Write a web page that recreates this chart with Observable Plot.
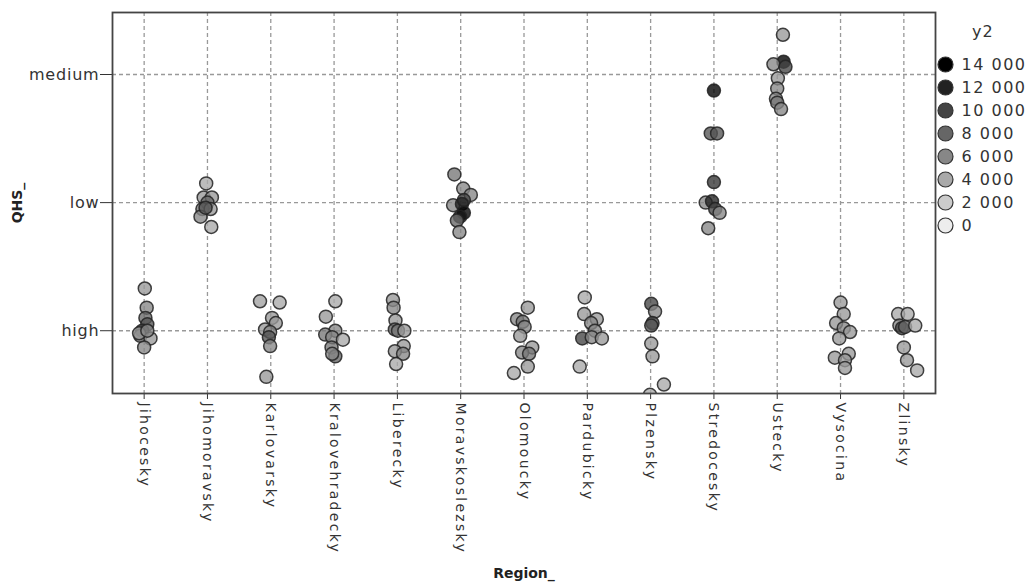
<!DOCTYPE html>
<html>
<head>
<meta charset="utf-8">
<script src="https://cdn.jsdelivr.net/npm/d3@7"></script>
<script src="https://cdn.jsdelivr.net/npm/@observablehq/plot@0.6"></script>
<style>
  html, body { margin: 0; padding: 0; background: #fff; }
  #wrap { position: relative; width: 1032px; height: 586px; font-family: "DejaVu Sans", sans-serif; }
  #chart { position: absolute; left: 0; top: 0; }
  #legend { position: absolute; left: 930px; top: 0; }
  #legTitle { position: absolute; left: 972px; top: 22px; font-size: 16px; color: #333; letter-spacing: 1px; }
  #chart g[aria-label="x-axis tick label"] text { letter-spacing: 2.3px; font-size: 14px; }
  #chart g[aria-label="y-axis tick label"] text { letter-spacing: 0.8px; font-size: 16px; }
  #chart g[aria-label="x-axis label"] text, #chart g[aria-label="y-axis label"] text { font-weight: bold; font-size: 14px; fill: #222; }
  #legend text { letter-spacing: 1.5px; }
</style>
</head>
<body>
<div id="wrap">
  <div id="chart"></div>
  <div id="legend"></div>
  <div id="legTitle">y2</div>
</div>
<script>
// Categories
const regions = ["Jihocesky","Jihomoravsky","Karlovarsky","Kralovehradecky","Liberecky","Moravskoslezsky","Olomoucky","Pardubicky","Plzensky","Stredocesky","Ustecky","Vysocina","Zlinsky"];
const qhsLevels = ["high", "low", "medium"];
// QHS_ category of each region
const regionQHS = ["high","low","high","high","high","low","high","high","high","low","medium","high","high"];
// Points per region: [x jitter, y jitter (category units), y2]
const jihocesky = [[0.01,0.33,5000],[0.04,0.18,6000],[0.02,0.10,8000],[0.05,0.05,9000],[-0.03,0.0,10000],[-0.06,-0.04,7000],[0.10,-0.06,5000],[0.0,-0.13,6000],[-0.08,-0.02,5000],[0.05,0.0,6000]];
const jihomoravsky = [[-0.02,0.15,4000],[-0.06,0.04,5000],[0.07,0.04,5000],[0.0,0.0,8000],[-0.08,-0.05,7000],[0.05,-0.05,5000],[-0.11,-0.11,6000],[0.06,-0.19,4000],[-0.03,-0.04,9000]];
const karlovarsky = [[-0.17,0.23,4500],[0.14,0.22,4000],[0.02,0.10,5000],[0.08,0.06,5000],[-0.09,0.01,5000],[-0.01,-0.01,6000],[-0.03,-0.05,9000],[-0.01,-0.12,6000],[-0.07,-0.36,5000]];
const kralovehradecky = [[0.02,0.23,4000],[-0.13,0.11,5000],[0.02,0.0,6000],[-0.14,-0.03,7000],[-0.03,-0.05,6000],[0.14,-0.07,4000],[-0.04,-0.13,7000],[0.02,-0.20,8000],[-0.03,-0.18,6000]];
const liberecky = [[-0.07,0.24,5000],[-0.06,0.18,6000],[-0.03,0.08,5000],[-0.04,0.01,8000],[0.01,0.0,7000],[0.11,0.0,5000],[0.10,-0.12,5000],[-0.04,-0.16,5000],[0.09,-0.18,6000],[-0.02,-0.26,4000]];
const moravskoslezsky = [[-0.10,0.22,7000],[0.04,0.11,6000],[0.16,0.06,6000],[-0.12,-0.02,6000],[0.05,0.02,10000],[0.02,-0.01,12000],[0.05,-0.08,14000],[-0.01,-0.11,13000],[-0.06,-0.14,8000],[-0.02,-0.23,6000]];
const olomoucky = [[0.06,0.18,5000],[-0.11,0.09,6000],[-0.02,0.07,7000],[0.01,0.03,6000],[-0.06,-0.04,5000],[0.13,-0.13,5000],[-0.03,-0.17,6000],[0.08,-0.18,7000],[0.06,-0.28,5000],[-0.16,-0.33,4000]];
const pardubicky = [[-0.04,0.26,4000],[-0.05,0.13,5000],[0.15,0.09,5000],[0.06,0.06,6000],[0.12,0.0,6000],[-0.08,-0.06,10000],[0.07,-0.05,6000],[0.23,-0.06,5000],[-0.12,-0.28,4000]];
const plzensky = [[0.01,0.21,10000],[0.07,0.15,6000],[0.03,0.06,10000],[0.01,0.04,9000],[0.01,-0.10,5000],[0.03,-0.20,5000],[0.21,-0.42,4000],[-0.01,-0.50,4000]];
const stredocesky = [[0.0,0.875,14000],[-0.05,0.54,9000],[0.05,0.54,9000],[0.0,0.16,11000],[-0.13,0.0,6000],[-0.03,0.01,12000],[0.02,-0.05,10000],[0.09,-0.08,6000],[-0.09,-0.2,6000]];
const ustecky = [[0.09,0.31,5000],[0.10,0.10,14000],[-0.06,0.08,6000],[0.13,0.06,10000],[0.01,-0.03,5000],[0.0,-0.11,6000],[-0.02,-0.19,6000],[0.0,-0.22,7000],[0.06,-0.27,6000]];
const vysocina = [[0.0,0.22,5000],[0.05,0.13,5000],[-0.07,0.06,5000],[0.05,0.02,6000],[0.15,-0.01,5000],[-0.02,-0.06,5000],[0.13,-0.18,5000],[-0.09,-0.21,5000],[0.07,-0.23,5000],[0.07,-0.29,5000]];
const zlinsky = [[-0.09,0.13,4000],[0.06,0.13,4000],[-0.07,0.04,6000],[-0.03,0.02,10000],[0.02,0.03,8000],[0.18,0.04,4000],[0.0,-0.13,5000],[0.05,-0.23,5000],[0.21,-0.31,4000]];
const pointsByRegion = [jihocesky, jihomoravsky, karlovarsky, kralovehradecky, liberecky, moravskoslezsky, olomoucky, pardubicky, plzensky, stredocesky, ustecky, vysocina, zlinsky];
// Legend values
const legendValues = [14000, 12000, 10000, 8000, 6000, 4000, 2000, 0];

const data = pointsByRegion.flatMap((pts, i) => pts.map(([jx, jy, y2]) => ({
  region: i, level: qhsLevels.indexOf(regionQHS[i]), jx, jy, y2
})));

const colorScale = {type: "linear", domain: [0, 14000], range: ["#ededed", "#000000"]};
const regionIdx = regions.map((_, i) => i);
const levelIdx = qhsLevels.map((_, i) => i);

const chart = Plot.plot({
  width: 1032,
  height: 586,
  marginLeft: 112,
  marginRight: 97,
  marginTop: 12,
  marginBottom: 193,
  style: {fontFamily: "DejaVu Sans, sans-serif", fontSize: "14px", color: "#333", background: "#fff"},
  x: {type: "linear", domain: [-0.5, 12.5]},
  y: {type: "linear", domain: [-0.49, 2.484]},
  color: colorScale,
  marks: [
    Plot.gridX(regionIdx, {stroke: "#999", strokeOpacity: 1, strokeDasharray: "4,3", strokeWidth: 1.3}),
    Plot.gridY(levelIdx, {stroke: "#999", strokeOpacity: 1, strokeDasharray: "4,3", strokeWidth: 1.3}),
    Plot.axisY({ticks: levelIdx, tickFormat: i => qhsLevels[i], tickSize: 12, tickPadding: 1, label: "QHS_", labelAnchor: "center", labelArrow: "none", labelOffset: 100}),
    Plot.axisX({ticks: regionIdx, tickFormat: i => regions[i], tickSize: 6, tickPadding: 3, tickRotate: 90, label: "Region_", labelAnchor: "center", labelArrow: "none", labelOffset: 184}),
    Plot.dot(data, {
      x: d => d.region + d.jx,
      y: d => d.level + d.jy,
      fill: "y2",
      r: 6.5,
      fillOpacity: 0.78,
      stroke: "#222",
      strokeOpacity: 0.85,
      strokeWidth: 1.5,
      clip: true
    }),
    Plot.frame({stroke: "#444", strokeWidth: 1.8})
  ]
});
document.getElementById("chart").appendChild(chart);

const fmt = d3.formatLocale({decimal: ".", thousands: " ", grouping: [3]}).format(",");
const legend = Plot.plot({
  width: 102,
  height: 240,
  marginTop: 62,
  marginBottom: 13,
  marginLeft: 0,
  marginRight: 0,
  style: {fontFamily: "DejaVu Sans, sans-serif", fontSize: "16px", color: "#333", background: "transparent"},
  y: {type: "point", domain: legendValues, axis: null, padding: 0},
  color: colorScale,
  marks: [
    Plot.dot(legendValues, {y: d => d, frameAnchor: "left", dx: 15, r: 7.5, fill: d => d, stroke: "#333", strokeWidth: 1.2}),
    Plot.text(legendValues, {y: d => d, text: d => fmt(d), frameAnchor: "left", dx: 31, textAnchor: "start", fill: "#333"})
  ]
});
document.getElementById("legend").appendChild(legend);
</script>
</body>
</html>
